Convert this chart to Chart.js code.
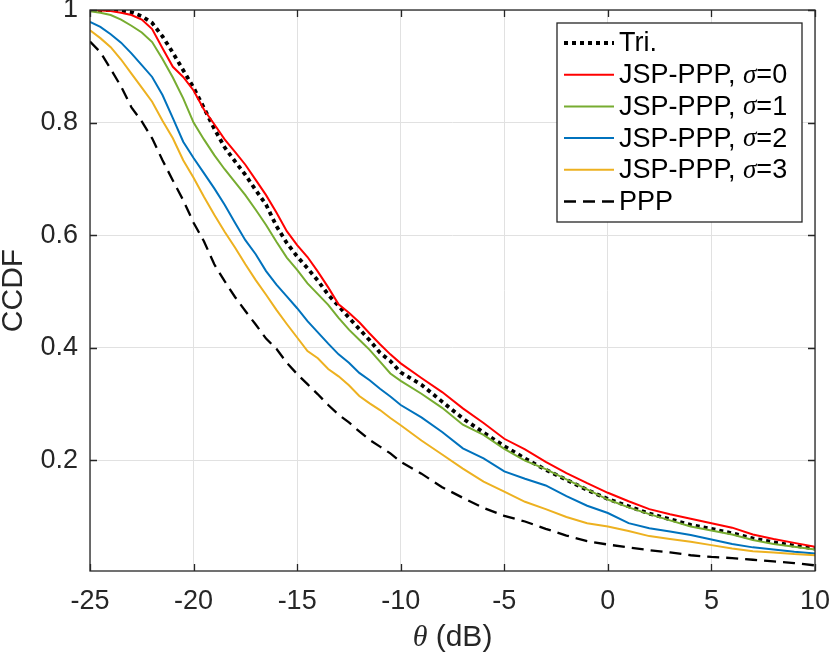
<!DOCTYPE html>
<html>
<head>
<meta charset="utf-8">
<title>CCDF</title>
<script src="https://cdn.jsdelivr.net/npm/chart.js@4.4.1/dist/chart.umd.min.js"></script>
<style>
  html, body { margin: 0; padding: 0; background: #fff; }
  canvas { display: block; }
</style>
</head>
<body>
<canvas id="ccdf" width="830" height="658"></canvas>
<script>
// theta in dB (x axis)
const thetaDb = [-25, -24.5, -24, -23.5, -23, -22.5, -22, -21.5, -21, -20.5,
  -20, -19.5, -19, -18.5, -18, -17.5, -17, -16.5, -16, -15.5,
  -15, -14.5, -14, -13.5, -13, -12.5, -12, -11.5, -11, -10.5,
  -10, -9, -8, -7, -6, -5, -4, -3, -2, -1,
  0, 1, 2, 3, 4, 5, 6, 7, 8, 9, 10];

const tri = [1.000, 1.000, 1.000, 0.999, 0.996, 0.989, 0.977, 0.953, 0.924, 0.893,
  0.862, 0.826, 0.789, 0.756, 0.731, 0.707, 0.680, 0.654, 0.616, 0.586,
  0.562, 0.541, 0.519, 0.494, 0.474, 0.453, 0.433, 0.413, 0.391, 0.376,
  0.356, 0.334, 0.304, 0.274, 0.249, 0.225, 0.203, 0.183, 0.165, 0.147,
  0.131, 0.118, 0.105, 0.095, 0.085, 0.078, 0.070, 0.061, 0.054, 0.048, 0.043];

const jspSigma0 = [1.000, 0.999, 0.998, 0.995, 0.991, 0.983, 0.966, 0.932, 0.899, 0.881,
  0.857, 0.823, 0.797, 0.770, 0.748, 0.725, 0.698, 0.671, 0.640, 0.607,
  0.582, 0.561, 0.535, 0.507, 0.477, 0.462, 0.445, 0.425, 0.406, 0.388,
  0.372, 0.346, 0.321, 0.292, 0.266, 0.238, 0.219, 0.197, 0.177, 0.159,
  0.142, 0.127, 0.113, 0.104, 0.096, 0.088, 0.080, 0.068, 0.060, 0.053, 0.046];

const jspSigma1 = [0.998, 0.995, 0.991, 0.983, 0.972, 0.960, 0.943, 0.913, 0.880, 0.843,
  0.800, 0.770, 0.742, 0.717, 0.694, 0.671, 0.645, 0.618, 0.588, 0.560,
  0.538, 0.514, 0.495, 0.476, 0.453, 0.432, 0.414, 0.396, 0.375, 0.354,
  0.341, 0.318, 0.293, 0.263, 0.245, 0.220, 0.199, 0.184, 0.166, 0.148,
  0.130, 0.116, 0.104, 0.093, 0.082, 0.075, 0.068, 0.058, 0.051, 0.046, 0.041];

const jspSigma2 = [0.979, 0.970, 0.957, 0.942, 0.923, 0.902, 0.881, 0.849, 0.808, 0.766,
  0.737, 0.710, 0.683, 0.654, 0.622, 0.591, 0.566, 0.536, 0.512, 0.491,
  0.470, 0.447, 0.427, 0.407, 0.388, 0.373, 0.355, 0.342, 0.327, 0.313,
  0.298, 0.276, 0.250, 0.221, 0.203, 0.180, 0.167, 0.155, 0.136, 0.119,
  0.106, 0.088, 0.079, 0.073, 0.067, 0.059, 0.051, 0.045, 0.041, 0.037, 0.034];

const jspSigma3 = [0.964, 0.950, 0.934, 0.912, 0.887, 0.862, 0.837, 0.803, 0.772, 0.733,
  0.702, 0.668, 0.636, 0.606, 0.578, 0.548, 0.520, 0.494, 0.467, 0.442,
  0.418, 0.394, 0.381, 0.362, 0.349, 0.333, 0.314, 0.301, 0.289, 0.275,
  0.262, 0.235, 0.210, 0.185, 0.162, 0.144, 0.126, 0.113, 0.099, 0.088,
  0.082, 0.074, 0.065, 0.060, 0.055, 0.049, 0.043, 0.038, 0.036, 0.033, 0.031];

const ppp = [0.944, 0.925, 0.895, 0.864, 0.827, 0.802, 0.772, 0.733, 0.697, 0.662,
  0.622, 0.589, 0.548, 0.518, 0.490, 0.465, 0.441, 0.416, 0.398, 0.373,
  0.353, 0.335, 0.317, 0.298, 0.281, 0.267, 0.251, 0.236, 0.224, 0.212,
  0.197, 0.176, 0.152, 0.133, 0.115, 0.101, 0.091, 0.078, 0.066, 0.056,
  0.050, 0.045, 0.040, 0.036, 0.031, 0.028, 0.026, 0.023, 0.020, 0.017, 0.013];

const seriesNames = ["Tri.", "JSP-PPP, σ=0", "JSP-PPP, σ=1", "JSP-PPP, σ=2", "JSP-PPP, σ=3", "PPP"];
const xTicks = [-25, -20, -15, -10, -5, 0, 5, 10];
const yTicks = [0.2, 0.4, 0.6, 0.8, 1];

const axisColor = "#262626";
const sans = "'Liberation Sans', Arial, sans-serif";
const serif = "'Liberation Serif', 'Times New Roman', serif";

function points(ys) {
  return thetaDb.map((t, i) => ({ x: t, y: ys[i] }));
}

const styles = [
  { color: "#000000", width: 3.8, dash: [4, 4] },
  { color: "#ff0000", width: 2, dash: [] },
  { color: "#77ac30", width: 2, dash: [] },
  { color: "#0072bd", width: 2, dash: [] },
  { color: "#edb120", width: 2, dash: [] },
  { color: "#000000", width: 2.3, dash: [12, 7] }
];
const allSeries = [tri, jspSigma0, jspSigma1, jspSigma2, jspSigma3, ppp];

const datasets = allSeries.map((ys, i) => ({
  label: seriesNames[i],
  data: points(ys),
  borderColor: styles[i].color,
  borderWidth: styles[i].width,
  borderDash: styles[i].dash,
  pointRadius: 0,
  tension: 0,
  fill: false,
  order: allSeries.length - i   // later series drawn on top
}));

// text with italic greek letters, like the TeX labels
function richParts(text) {
  return text.split(/([θσ])/).filter(s => s.length).map(s => ({
    s, font: /[θσ]/.test(s) ? "italic SIZEpx " + serif : "SIZEpx " + sans
  }));
}
function richWidth(ctx, text, size) {
  let w = 0;
  richParts(text).forEach(p => { ctx.font = p.font.replace("SIZE", size); w += ctx.measureText(p.s).width; });
  return w;
}
function drawRich(ctx, text, x, y, size) {
  let cx = x;
  richParts(text).forEach(p => {
    ctx.font = p.font.replace("SIZE", size);
    ctx.fillText(p.s, cx, y);
    cx += ctx.measureText(p.s).width;
  });
}

const matlabAxes = {
  id: "matlabAxes",
  afterDatasetsDraw(chart) {
    const { ctx, chartArea: a, scales: { x, y } } = chart;
    ctx.save();

    // box + inward ticks
    ctx.strokeStyle = axisColor;
    ctx.lineWidth = 1.3;
    ctx.strokeRect(a.left, a.top, a.right - a.left, a.bottom - a.top);
    ctx.beginPath();
    xTicks.forEach(v => {
      const px = Math.round(x.getPixelForValue(v)) + 0.5;
      ctx.moveTo(px, a.bottom); ctx.lineTo(px, a.bottom - 7);
      ctx.moveTo(px, a.top); ctx.lineTo(px, a.top + 7);
    });
    yTicks.forEach(v => {
      const py = Math.round(y.getPixelForValue(v)) + 0.5;
      ctx.moveTo(a.left, py); ctx.lineTo(a.left + 7, py);
      ctx.moveTo(a.right, py); ctx.lineTo(a.right - 7, py);
    });
    ctx.stroke();

    // axis titles
    ctx.fillStyle = axisColor;
    ctx.textBaseline = "middle";
    ctx.textAlign = "left";
    const xt = "θ (dB)";
    const xw = richWidth(ctx, xt, 30);
    drawRich(ctx, xt, (a.left + a.right) / 2 - xw / 2, 638, 30);

    ctx.save();
    ctx.translate(14, (a.top + a.bottom) / 2);
    ctx.rotate(-Math.PI / 2);
    ctx.textAlign = "center";
    ctx.font = "30px " + sans;
    ctx.fillText("CCDF", 0, 0);
    ctx.restore();

    // legend
    const lx = a.right - 258, ly = a.top + 13, lw = 245, lh = 199;
    ctx.fillStyle = "#ffffff";
    ctx.fillRect(lx, ly, lw, lh);
    ctx.strokeStyle = axisColor;
    ctx.lineWidth = 1.3;
    ctx.strokeRect(lx, ly, lw, lh);
    chart.data.datasets.forEach((ds, i) => {
      const ry = ly + 20 + i * 31.7;
      ctx.beginPath();
      ctx.strokeStyle = ds.borderColor;
      ctx.lineWidth = ds.borderWidth;
      ctx.setLineDash(ds.borderDash);
      ctx.moveTo(lx + 7, ry);
      ctx.lineTo(lx + 57, ry);
      ctx.stroke();
      ctx.setLineDash([]);
      ctx.fillStyle = "#000000";
      drawRich(ctx, ds.label, lx + 62, ry + 1, 27);
    });

    ctx.restore();
  }
};

new Chart(document.getElementById("ccdf"), {
  type: "line",
  data: { datasets },
  options: {
    responsive: false,
    animation: false,
    layout: { padding: { top: 10, right: 15, left: 0, bottom: 0 } },
    plugins: { legend: { display: false }, tooltip: { enabled: false } },
    scales: {
      x: {
        type: "linear",
        min: -25,
        max: 10,
        afterBuildTicks: s => { s.ticks = xTicks.map(v => ({ value: v })); },
        afterFit: s => { s.height = 87; s.paddingLeft = 0; s.paddingRight = 0; },
        grid: { color: "#e1e1e1", lineWidth: 1, drawTicks: false },
        border: { display: false },
        ticks: {
          color: axisColor,
          font: { family: sans, size: 27 },
          padding: 14,
          maxRotation: 0,
          callback: v => String(v)
        }
      },
      y: {
        type: "linear",
        min: 0.003,
        max: 1,
        afterBuildTicks: s => { s.ticks = yTicks.map(v => ({ value: v })); },
        afterFit: s => { s.width = 90; s.paddingTop = 0; s.paddingBottom = 0; },
        grid: { color: "#e1e1e1", lineWidth: 1, drawTicks: false },
        border: { display: false },
        ticks: {
          color: axisColor,
          font: { family: sans, size: 27 },
          padding: 12,
          callback: v => (v === 1 ? "1" : v.toFixed(1))
        }
      }
    }
  },
  plugins: [matlabAxes]
});
</script>
</body>
</html>
